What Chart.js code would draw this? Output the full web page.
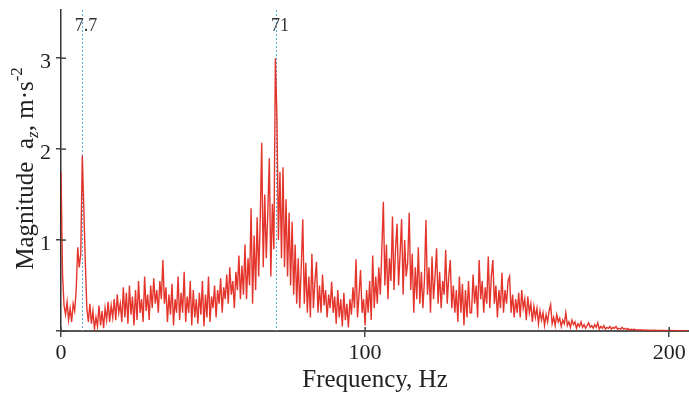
<!DOCTYPE html>
<html><head><meta charset="utf-8">
<script src="https://cdn.jsdelivr.net/npm/chart.js@4/dist/chart.umd.min.js"></script>
<style>html,body{margin:0;padding:0;background:#fff}#wrap{width:689px;height:399px}</style>
</head><body><div id="wrap"><canvas id="c" width="689" height="399"></canvas></div>
<script>
// Frequency grid (Hz): uniform sampling start and step
const freqStart = 0;
const freqStep = 0.5;
// Spectrum magnitude a_z (m·s^-2), one value per 0.5 Hz
const magnitudes = [
1.75,0.62,0.28,0.18,0.32,0.12,0.25,0.1,0.3,0.22,
0.45,0.92,0.7,0.85,1.93,1.35,0.75,0.25,0.1,0.3,
0.08,0.22,0.02,0.15,0.05,0.28,0.06,0.22,0.03,0.25,
0.12,0.32,0.1,0.28,0.15,0.35,0.12,0.4,0.2,0.3,
0.1,0.48,0.15,0.42,0.08,0.5,0.18,0.38,0.06,0.45,
0.12,0.55,0.2,0.35,0.1,0.6,0.22,0.4,0.12,0.5,
0.25,0.58,0.3,0.45,0.2,0.55,0.35,0.78,0.3,0.48,
0.1,0.4,0.18,0.52,0.06,0.35,0.2,0.6,0.12,0.42,
0.2,0.65,0.1,0.38,0.2,0.55,0.06,0.45,0.15,0.35,
0.08,0.42,0.18,0.55,0.05,0.4,0.15,0.6,0.1,0.38,
0.25,0.5,0.15,0.45,0.3,0.58,0.2,0.48,0.35,0.62,
0.3,0.7,0.4,0.55,0.25,0.65,0.45,0.83,0.35,0.72,
0.4,0.95,0.35,0.8,0.5,1.35,0.3,1.05,0.45,1.25,
0.6,1.2,2.07,0.7,1.5,0.8,1.3,1.9,0.6,1.4,
0.9,3.0,2.35,1.0,1.75,0.8,1.8,0.7,1.45,0.6,
1.3,0.5,1.2,0.4,0.95,0.3,0.8,0.25,0.7,1.23,
0.3,0.75,0.2,0.6,0.15,0.85,0.25,0.55,0.76,0.2,
0.5,0.2,0.62,0.28,0.45,0.15,0.4,0.25,0.54,0.2,
0.38,0.08,0.45,0.15,0.35,0.05,0.42,0.12,0.3,0.04,
0.35,0.18,0.48,0.25,0.79,0.15,0.4,0.67,0.2,0.35,
0.06,0.45,0.2,0.55,0.12,0.83,0.25,0.6,0.3,0.7,
0.4,0.9,1.42,0.5,0.95,0.35,0.8,0.55,1.26,0.45,
0.9,1.18,0.5,0.85,1.23,0.4,1.0,0.6,0.75,1.3,
0.45,0.85,0.2,0.7,0.35,0.92,0.3,0.65,0.25,0.55,
1.22,0.4,0.7,0.2,0.82,0.35,0.6,0.91,0.3,0.65,
0.25,0.55,0.4,0.89,0.3,0.6,0.78,0.25,0.5,0.2,
0.45,0.1,0.6,0.2,0.52,0.06,0.45,0.15,0.55,0.2,
0.2,0.62,0.3,0.5,0.15,0.78,0.35,0.55,0.2,0.48,
0.3,0.82,0.25,0.6,0.78,0.3,0.5,0.15,0.45,0.25,
0.64,0.2,0.45,0.3,0.55,0.6,0.2,0.4,0.15,0.35,
0.2,0.42,0.15,0.45,0.25,0.35,0.12,0.38,0.2,0.3,
0.1,0.27,0.15,0.25,0.08,0.22,0.12,0.2,0.06,0.18,
0.1,0.22,0.29,0.08,0.15,0.06,0.18,0.1,0.14,0.05,
0.12,0.08,0.2,0.06,0.1,0.04,0.12,0.07,0.1,0.03,
0.08,0.05,0.1,0.04,0.07,0.03,0.06,0.09,0.04,0.06,
0.03,0.07,0.04,0.09,0.02,0.05,0.03,0.06,0.02,0.04,
0.03,0.05,0.02,0.04,0.03,0.05,0.02,0.03,0.02,0.04,
0.02,0.03,0.015,0.025,0.01,0.02,0.015,0.02,0.01,0.015,
0.01,0.015,0.01,0.012,0.008,0.01,0.008,0.01,0.006,0.008,
0.006,0.008,0.005,0.007,0.005,0.006,0.005,0.006,0.004,0.005,
0.004,0.005,0.004,0.005,0.004,0.004,0.003,0.004,0.003,0.004,0.003,0.003,0.003
];
const xTickValues = [0, 100, 200];
const yTickValues = [0, 1, 2, 3];
const markerFreqs = [6.9, 70.7];
const markerLabels = ['7.7', '71'];
const xTitle = 'Frequency, Hz';
const yTitleParts = ['Magnitude  a', 'z', ', m·s', '-2'];

const SERIF = '"Liberation Serif", "Times New Roman", serif';
const points = magnitudes.map((m, i) => ({ x: freqStart + i * freqStep, y: m }));

const markerPlugin = {
  id: 'markers',
  beforeDatasetsDraw(chart) {
    const c = chart.ctx, xs = chart.scales.x, a = chart.chartArea;
    c.save();
    c.strokeStyle = '#5aaee0';
    c.lineWidth = 1;
    c.setLineDash([2, 2]);
    markerFreqs.forEach(f => {
      const px = Math.round(xs.getPixelForValue(f)) + 0.5;
      c.beginPath(); c.moveTo(px, a.top); c.lineTo(px, a.bottom); c.stroke();
    });
    c.restore();
  },
  afterDraw(chart) {
    const c = chart.ctx, xs = chart.scales.x, ys = chart.scales.y, a = chart.chartArea;
    c.save();
    c.font = '18px ' + SERIF;
    c.fillStyle = '#333';
    c.textAlign = 'center';
    c.textBaseline = 'middle';
    markerFreqs.forEach((f, i) => {
      c.fillText(markerLabels[i], xs.getPixelForValue(f) + 4, 26);
    });
    // inner halves of the crossing tick marks
    c.strokeStyle = '#444';
    c.lineWidth = 1.5;
    ys.ticks.forEach(t => {
      const py = ys.getPixelForValue(t.value);
      c.beginPath(); c.moveTo(a.left, py); c.lineTo(a.left + 5, py); c.stroke();
    });
    xs.ticks.forEach(t => {
      const px = xs.getPixelForValue(t.value);
      c.beginPath(); c.moveTo(px, a.bottom); c.lineTo(px, a.bottom - 4); c.stroke();
    });
    // y-axis title with subscript / superscript
    const big = 25, small = 17;
    const parts = [
      { t: yTitleParts[0], f: big + 'px ' + SERIF, dy: 0 },
      { t: yTitleParts[1], f: 'italic ' + small + 'px ' + SERIF, dy: 5 },
      { t: yTitleParts[2], f: big + 'px ' + SERIF, dy: 0 },
      { t: yTitleParts[3], f: small + 'px ' + SERIF, dy: -11 }
    ];
    let total = 0;
    parts.forEach(p => { c.font = p.f; p.w = c.measureText(p.t).width; total += p.w; });
    c.translate(33, (a.top + a.bottom) / 2 - 2);
    c.rotate(-Math.PI / 2);
    c.fillStyle = '#222';
    c.textAlign = 'left';
    c.textBaseline = 'alphabetic';
    let x = -total / 2;
    parts.forEach(p => { c.font = p.f; c.fillText(p.t, x, p.dy); x += p.w; });
    c.restore();
  }
};

new Chart(document.getElementById('c'), {
  type: 'line',
  data: {
    datasets: [{
      data: points,
      borderColor: 'rgba(226,36,26,0.92)',
      borderWidth: 1.4,
      pointRadius: 0,
      tension: 0,
      fill: false
    }]
  },
  options: {
    responsive: false,
    devicePixelRatio: 1,
    animation: false,
    layout: { padding: { top: 10, right: 0, left: 0, bottom: 0 } },
    plugins: { legend: { display: false }, tooltip: { enabled: false } },
    scales: {
      x: {
        type: 'linear',
        min: 0,
        max: 206.5,
        afterBuildTicks: s => { s.ticks = xTickValues.map(v => ({ value: v })); },
        afterFit: s => { s.height = 68; s.paddingLeft = 0; s.paddingRight = 0; },
        grid: { display: true, drawOnChartArea: false, drawTicks: true, tickLength: 6, color: '#444', lineWidth: 1.5 },
        border: { display: true, color: '#555', width: 2 },
        ticks: { font: { family: SERIF, size: 22 }, color: '#222', padding: 3, maxRotation: 0, autoSkip: false },
        title: { display: true, text: xTitle, font: { family: SERIF, size: 25 }, color: '#222', padding: { top: 0, bottom: 4 } }
      },
      y: {
        type: 'linear',
        min: 0,
        max: 3.53,
        afterBuildTicks: s => { s.ticks = yTickValues.map(v => ({ value: v })); },
        afterFit: s => { s.width = 61; s.paddingTop = 0; s.paddingBottom = 0; },
        grid: { display: true, drawOnChartArea: false, drawTicks: true, tickLength: 5, color: '#444', lineWidth: 1.5 },
        border: { display: true, color: '#333', width: 1.5 },
        ticks: {
          font: { family: SERIF, size: 22 }, color: '#222', padding: 5, labelOffset: 4,
          callback: v => (v === 0 ? '' : String(v))
        },
        title: { display: false }
      }
    }
  },
  plugins: [markerPlugin]
});
</script>
</body></html>
